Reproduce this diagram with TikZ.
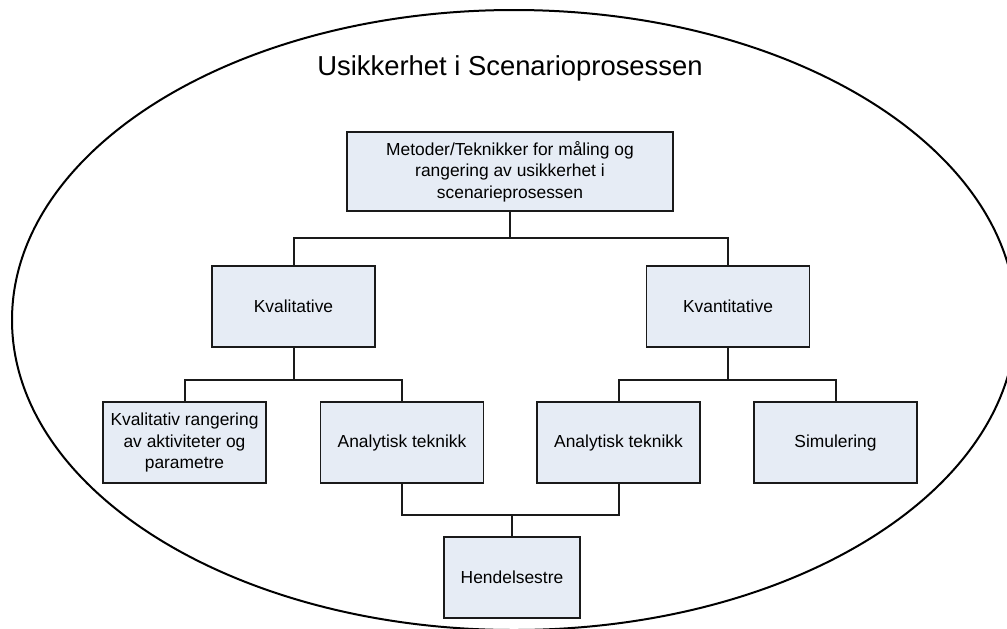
\documentclass[tikz,border=0pt]{standalone}
\usepackage{fontspec}
\setmainfont{Liberation Sans}
\usepackage{xcolor}
\definecolor{boxfill}{RGB}{230,236,245}
\definecolor{darkgray}{HTML}{1A1A1A}
\usepackage{tikz}
\usetikzlibrary{positioning}

\begin{document}
\begin{tikzpicture}[x=0.5pt, y=-0.5pt, line width=1pt,
		terminal/.style={
					rectangle, minimum width = 81.5pt, minimum height = 40.5pt, thick,
					draw = darkgray, fill = boxfill, align = center, inner sep = 1pt,
					font = \fontsize{8.7}{10.7}\selectfont},
		link/.style={draw = darkgray, line width = 1pt}]
		\useasboundingbox (0,0) rectangle (1007,628);
		\clip (0,0) rectangle (1007,628);
		\draw[line width = 1pt] (514,320) ellipse [x radius = 251pt, y radius = 155pt];
		\node (title) at (510,68) {\fontsize{13.7}{16}\selectfont Usikkerhet i Scenarioprosessen};
		\node (M) [terminal, minimum width = 163pt, minimum height = 39.5pt] at (510,171.5)
			{Metoder/Teknikker for måling og\\ rangering av usikkerhet i\\ scenarieprosessen};
		\node (KL) [terminal] at (293.5,306.5) {Kvalitative};
		\node (KN) [terminal] at (728,306.5) {Kvantitative};
		\node (KLA) [terminal] at (184.5,442.5) {Kvalitativ rangering\\ av aktiviteter og\\ parametre};
		\node (KLB) [terminal] at (402,442.5) {Analytisk teknikk};
		\node (KNA) [terminal] at (618.5,442.5) {Analytisk teknikk};
		\node (KNB) [terminal] at (835.5,442.5) {Simulering};
		\node (H) [terminal, minimum width = 68pt] at (512,577.5) {Hendelsestre};
		% junctions of the tree lines
		\coordinate (j1) at (510,238);
		\coordinate (j2) at (293.5,380);
		\coordinate (j3) at (728,380);
		\coordinate (j4) at (512,515);
		\draw[link] (M.south) -- (j1) -| (KL.north);
		\draw[link] (j1) -| (KN.north);
		\draw[link] (KL.south) -- (j2) -| (KLA.north);
		\draw[link] (j2) -| (KLB.north);
		\draw[link] (KN.south) -- (j3) -| (KNA.north);
		\draw[link] (j3) -| (KNB.north);
		\draw[link] (KLB.south) |- (j4) -| (KNA.south);
		\draw[link] (j4) -- (H.north);
	\end{tikzpicture}
\end{document}
